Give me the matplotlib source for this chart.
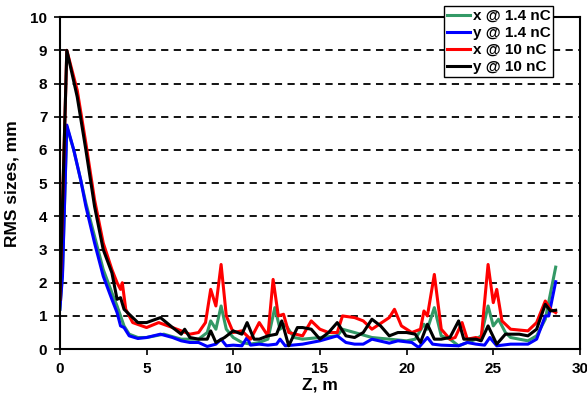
import matplotlib
matplotlib.use("Agg")
import matplotlib.pyplot as plt

plt.rcParams['font.family'] = ['Liberation Sans', 'DejaVu Sans']
plt.rcParams['font.weight'] = 'bold'

# x @ 1.4 nC
z_x14 = [0, 0.15, 0.4, 0.8, 1.2, 1.5, 2, 2.5, 3, 3.3, 3.5, 3.7, 4, 4.5, 5, 6, 7, 8, 8.5, 8.7, 9,
         9.3, 9.6, 10, 10.5, 11, 11.5, 12, 12.4, 12.7, 13, 13.5, 14, 15, 16, 16.3, 17, 18, 19, 20,
         20.5, 21, 21.2, 21.6, 22, 22.5, 23, 23.5, 24, 24.3, 24.7, 25, 25.3, 25.7, 26, 27, 27.5,
         28, 28.6]
v_x14 = [1.2, 2.3, 6.7, 6.0, 5.1, 4.4, 3.4, 2.4, 1.7, 1.3, 1.0, 0.7, 0.45, 0.35, 0.35, 0.45, 0.3,
         0.3, 0.5, 0.85, 0.6, 1.3, 0.6, 0.35, 0.2, 0.15, 0.2, 0.3, 1.25, 0.6, 0.75, 0.35, 0.3, 0.35,
         0.4, 0.6, 0.5, 0.35, 0.3, 0.25, 0.3, 0.75, 0.6, 1.25, 0.4, 0.3, 0.1, 0.2, 0.3, 0.4, 1.3,
         0.7, 0.9, 0.5, 0.35, 0.25, 0.4, 0.9, 2.47]

# y @ 1.4 nC
z_y14 = [0, 0.15, 0.4, 0.8, 1.2, 1.5, 2, 2.5, 3, 3.3, 3.5, 3.7, 4, 4.5, 5, 5.8, 6.5, 7, 7.5, 8,
         8.5, 9, 9.3, 9.6, 10, 10.5, 10.8, 11, 11.5, 12, 12.5, 12.7, 13, 14, 15, 16, 16.5, 17,
         17.5, 18, 19, 19.5, 20.3, 20.7, 21.2, 21.5, 22, 23, 23.5, 24, 24.5, 24.8, 25.2, 26, 27,
         27.5, 28, 28.2, 28.6]
v_y14 = [1.2, 2.2, 6.75, 6.0, 5.1, 4.3, 3.2, 2.2, 1.5, 1.1, 0.7, 0.65, 0.4, 0.32, 0.35, 0.45,
         0.35, 0.25, 0.2, 0.2, 0.08, 0.15, 0.3, 0.1, 0.12, 0.1, 0.35, 0.12, 0.15, 0.12, 0.15, 0.3,
         0.1, 0.15, 0.25, 0.4, 0.2, 0.15, 0.15, 0.3, 0.18, 0.25, 0.2, 0.05, 0.35, 0.15, 0.12, 0.1,
         0.2, 0.15, 0.12, 0.35, 0.1, 0.15, 0.15, 0.3, 1.0, 1.0, 2.03]

# x @ 10 nC
z_x10 = [0, 0.4, 1, 1.5, 2, 2.5, 3, 3.3, 3.5, 3.6, 3.8, 4.2, 5, 5.7, 6.5, 7, 7.5, 8, 8.4, 8.7,
         9.0, 9.3, 9.6, 10, 10.5, 11, 11.5, 12, 12.3, 12.6, 12.9, 13.2, 14, 14.5, 15, 15.5, 16,
         16.3, 17, 17.5, 18, 19, 19.3, 19.7, 20.3, 20.8, 21, 21.2, 21.6, 22, 22.5, 22.8, 23.2,
         23.5, 24, 24.3, 24.7, 25, 25.2, 25.5, 26, 27, 27.5, 28, 28.3, 28.6]
v_x10 = [1.5, 9.0, 7.8, 6.2, 4.5, 3.2, 2.4, 2.0, 1.8, 2.0, 1.2, 0.8, 0.65, 0.8, 0.65, 0.55,
         0.45, 0.5, 0.8, 1.8, 1.3, 2.55, 1.0, 0.5, 0.55, 0.3, 0.8, 0.4, 2.1, 1.0, 1.05, 0.5, 0.4,
         0.85, 0.6, 0.5, 0.5, 1.0, 0.95, 0.85, 0.6, 0.95, 1.2, 0.7, 0.5, 0.6, 1.15, 1.0, 2.25,
         0.6, 0.3, 0.35, 0.8, 0.3, 0.35, 0.3, 2.55, 1.4, 1.8, 0.85, 0.6, 0.55, 0.8, 1.45, 1.2, 1.1]

# y @ 10 nC
z_y10 = [0, 0.4, 1, 1.5, 2, 2.5, 3, 3.3, 3.5, 3.7, 4.5, 5, 5.8, 6.5, 7, 7.2, 7.5, 8, 8.5, 8.7,
         9, 9.5, 10, 10.5, 10.8, 11.2, 11.5, 12, 12.5, 12.8, 13.2, 13.7, 14, 14.5, 15, 15.5, 16,
         16.5, 17, 17.5, 18, 18.5, 19, 19.5, 20, 20.5, 20.8, 21.2, 21.6, 22, 22.5, 23, 23.3, 24,
         24.3, 24.7, 25.2, 25.7, 26.5, 27, 27.5, 28, 28.3, 28.6]
v_y10 = [1.5, 9.0, 7.6, 6.0, 4.3, 3.0, 2.3, 1.5, 1.55, 1.2, 0.8, 0.8, 0.95, 0.65, 0.45, 0.6,
         0.35, 0.3, 0.3, 0.55, 0.2, 0.35, 0.55, 0.45, 0.8, 0.3, 0.3, 0.4, 0.45, 0.85, 0.1, 0.65,
         0.65, 0.6, 0.3, 0.5, 0.8, 0.4, 0.35, 0.5, 0.9, 0.7, 0.4, 0.5, 0.5, 0.45, 0.2, 0.75, 0.3,
         0.3, 0.35, 0.85, 0.3, 0.3, 0.25, 0.7, 0.15, 0.45, 0.45, 0.4, 0.6, 1.35, 1.15, 1.17]

fig = plt.figure(figsize=(5.87, 3.99), dpi=100)
ax = fig.add_axes([0.102, 0.125, 0.886, 0.832])

ax.plot(z_x14, v_x14, color='#339966', lw=2.2, label='x @ 1.4 nC')
ax.plot(z_y14, v_y14, color='#0000FF', lw=2.2, label='y @ 1.4 nC')
ax.plot(z_x10, v_x10, color='#FF0000', lw=2.2, label='x @ 10 nC')
ax.plot(z_y10, v_y10, color='black', lw=2.2, label='y @ 10 nC')

ax.set_xlim(0, 30)
ax.set_ylim(0, 10)
ax.set_xticks(range(0, 31, 5))
ax.set_yticks(range(0, 11))
for y in range(1, 10):
    ax.axhline(y, color='black', lw=1.3, ls=(0, (4, 3)), zorder=0)

for s in ax.spines.values():
    s.set_linewidth(1.5)
ax.tick_params(direction='out', length=4, width=1.2, labelsize=11, pad=5)
for lbl in ax.get_xticklabels() + ax.get_yticklabels():
    lbl.set_fontweight('bold')

ax.set_xlabel('Z, m', fontsize=12.5, fontweight='bold', labelpad=1)
ax.set_ylabel('RMS sizes, mm', fontsize=12.5, fontweight='bold', labelpad=8)

leg = ax.legend(loc='upper left', bbox_to_anchor=(0.757, 0.985), bbox_transform=fig.transFigure,
                fancybox=False, framealpha=1, edgecolor='black', handlelength=1.5,
                handletextpad=0.15, borderpad=0.2, labelspacing=0.2, borderaxespad=0,
                prop={'weight': 'bold', 'size': 11})
leg.get_frame().set_linewidth(1.0)

fig.savefig('out.png', dpi=100)
